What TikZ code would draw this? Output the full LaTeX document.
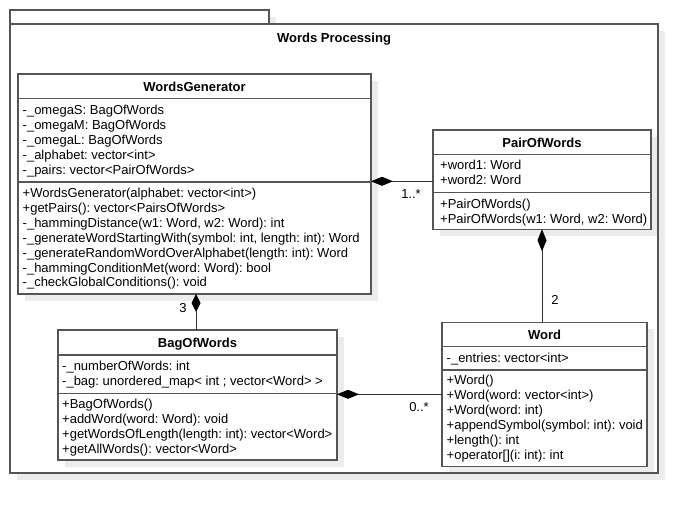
\documentclass[tikz,border=0pt]{standalone}
\usepackage{fontspec}
\setmainfont{Liberation Sans}
\usetikzlibrary{arrows.meta,shadows}
\definecolor{boxc}{HTML}{555555}
\definecolor{shadc}{HTML}{ECECEC}
\definecolor{linec}{HTML}{333333}
\frenchspacing
\begin{document}
\begin{tikzpicture}[x=1pt,y=-1pt,
  box/.style={draw=boxc, line width=1.3pt, fill=white, inner sep=0pt, outer sep=0pt, anchor=north west,
    drop shadow={shadow xshift=7pt, shadow yshift=-7pt, fill=shadc, opacity=1}},
  sep/.style={draw=boxc, line width=1.3pt},
  ttl/.style={font=\fontsize{13}{15}\selectfont\bfseries, inner sep=0pt, anchor=base},
  txt/.style={font=\fontsize{13}{15}\selectfont, inner sep=0pt, anchor=base west},
  mult/.style={font=\fontsize{13}{15}\selectfont, inner sep=0pt},
  comp/.style={draw=linec, line width=0.9pt, -{Diamond[length=22pt,width=9pt,black]}}
]
\fill[white] (0,0) rectangle (698,514);
\useasboundingbox (0,0) rectangle (698,514);

% package
\node[box, minimum width=259pt, minimum height=14pt] (tab) at (10,10) {};
\node[box, minimum width=648pt, minimum height=449pt] (pkg) at (10,24) {};
\node[ttl] (ptitle) at (334,42) {Words Processing};

% WordsGenerator
\node[box, minimum width=353pt, minimum height=220pt] (wg) at (18,74) {};
\draw[sep] (wg.west |- 0,98.7) -- (wg.east |- 0,98.7);
\draw[sep] (wg.west |- 0,182) -- (wg.east |- 0,182);
\node[ttl] (wgt) at (194.5,91.5) {WordsGenerator};
\node[txt] (wga1) at (22.5,114.5) {-\_omegaS: BagOfWords};
\node[txt] (wga2) at (22.5,129.5) {-\_omegaM: BagOfWords};
\node[txt] (wga3) at (22.5,144.5) {-\_omegaL: BagOfWords};
\node[txt] (wga4) at (22.5,159.5) {-\_alphabet: vector<int>};
\node[txt] (wga5) at (22.5,174.5) {-\_pairs: vector<PairOfWords>};
\node[txt] (wgm1) at (22.5,197.5) {+WordsGenerator(alphabet: vector<int>)};
\node[txt] (wgm2) at (22.5,212.5) {+getPairs(): vector<PairsOfWords>};
\node[txt] (wgm3) at (22.5,227.3) {-\_hammingDistance(w1: Word, w2: Word): int};
\node[txt] (wgm4) at (22.5,242.2) {-\_generateWordStartingWith(symbol: int, length: int): Word};
\node[txt] (wgm5) at (22.5,257.1) {-\_generateRandomWordOverAlphabet(length: int): Word};
\node[txt] (wgm6) at (22.5,272) {-\_hammingConditionMet(word: Word): bool};
\node[txt] (wgm7) at (22.5,286.9) {-\_checkGlobalConditions(): void};

% PairOfWords
\node[box, minimum width=218pt, minimum height=99.3pt] (pair) at (433,130) {};
\draw[sep] (pair.west |- 0,154.3) -- (pair.east |- 0,154.3);
\draw[sep] (pair.west |- 0,192.7) -- (pair.east |- 0,192.7);
\node[ttl] (pairt) at (542,147) {PairOfWords};
\node[txt] (paira1) at (440,169.5) {+word1: Word};
\node[txt] (paira2) at (440,184.5) {+word2: Word};
\node[txt] (pairm1) at (440,208) {+PairOfWords()};
\node[txt] (pairm2) at (440,223) {+PairOfWords(w1: Word, w2: Word)};

% BagOfWords
\node[box, minimum width=279pt, minimum height=130pt] (bow) at (58,330) {};
\draw[sep] (bow.west |- 0,355) -- (bow.east |- 0,355);
\draw[sep] (bow.west |- 0,393.3) -- (bow.east |- 0,393.3);
\node[ttl] (bowt) at (197.5,347) {BagOfWords};
\node[txt] (bowa1) at (62,370.5) {-\_numberOfWords: int};
\node[txt] (bowa2) at (62,385.5) {-\_bag: unordered\_map< int ; vector<Word> >};
\node[txt] (bowm1) at (62,408.5) {+BagOfWords()};
\node[txt] (bowm2) at (62,423) {+addWord(word: Word): void};
\node[txt] (bowm3) at (62,438) {+getWordsOfLength(length: int): vector<Word>};
\node[txt] (bowm4) at (62,453) {+getAllWords(): vector<Word>};

% Word
\node[box, minimum width=205pt, minimum height=144.4pt] (word) at (442,322.3) {};
\draw[sep] (word.west |- 0,346.7) -- (word.east |- 0,346.7);
\draw[sep] (word.west |- 0,370) -- (word.east |- 0,370);
\node[ttl] (wordt) at (544.5,339) {Word};
\node[txt] (worda1) at (446.5,362.3) {-\_entries: vector<int>};
\node[txt] (wordm1) at (446.5,384.5) {+Word()};
\node[txt] (wordm2) at (446.5,399.6) {+Word(word: vector<int>)};
\node[txt] (wordm3) at (446.5,414.7) {+Word(word: int)};
\node[txt] (wordm4) at (446.5,429.8) {+appendSymbol(symbol: int): void};
\node[txt] (wordm5) at (446.5,444.9) {+length(): int};
\node[txt] (wordm6) at (446.5,459.7) {+operator[](i: int): int};

% package border on top of inner shadows
\draw[boxc, line width=1.3pt] (pkg.north west) rectangle (pkg.south east);

% connectors
\draw[comp] (pair.west |- 0,181.3) -- (wg.east |- 0,181.3);
\draw[comp] (word.north -| pair.south) -- (pair.south);
\draw[comp, -{Diamond[length=18pt,width=9pt,black]}] ([xshift=-1.5pt]bow.north) -- ([xshift=-1.5pt]bow.north |- wg.south);
\draw[comp] (word.west |- 0,394.3) -- (bow.east |- 0,394.3);

% multiplicities
\node[mult] (m1) at (411,194) {1..*};
\node[mult] (m2) at (555,300) {2};
\node[mult] (m3) at (183,308.5) {3};
\node[mult] (m4) at (419,407.3) {0..*};
\end{tikzpicture}
\end{document}
